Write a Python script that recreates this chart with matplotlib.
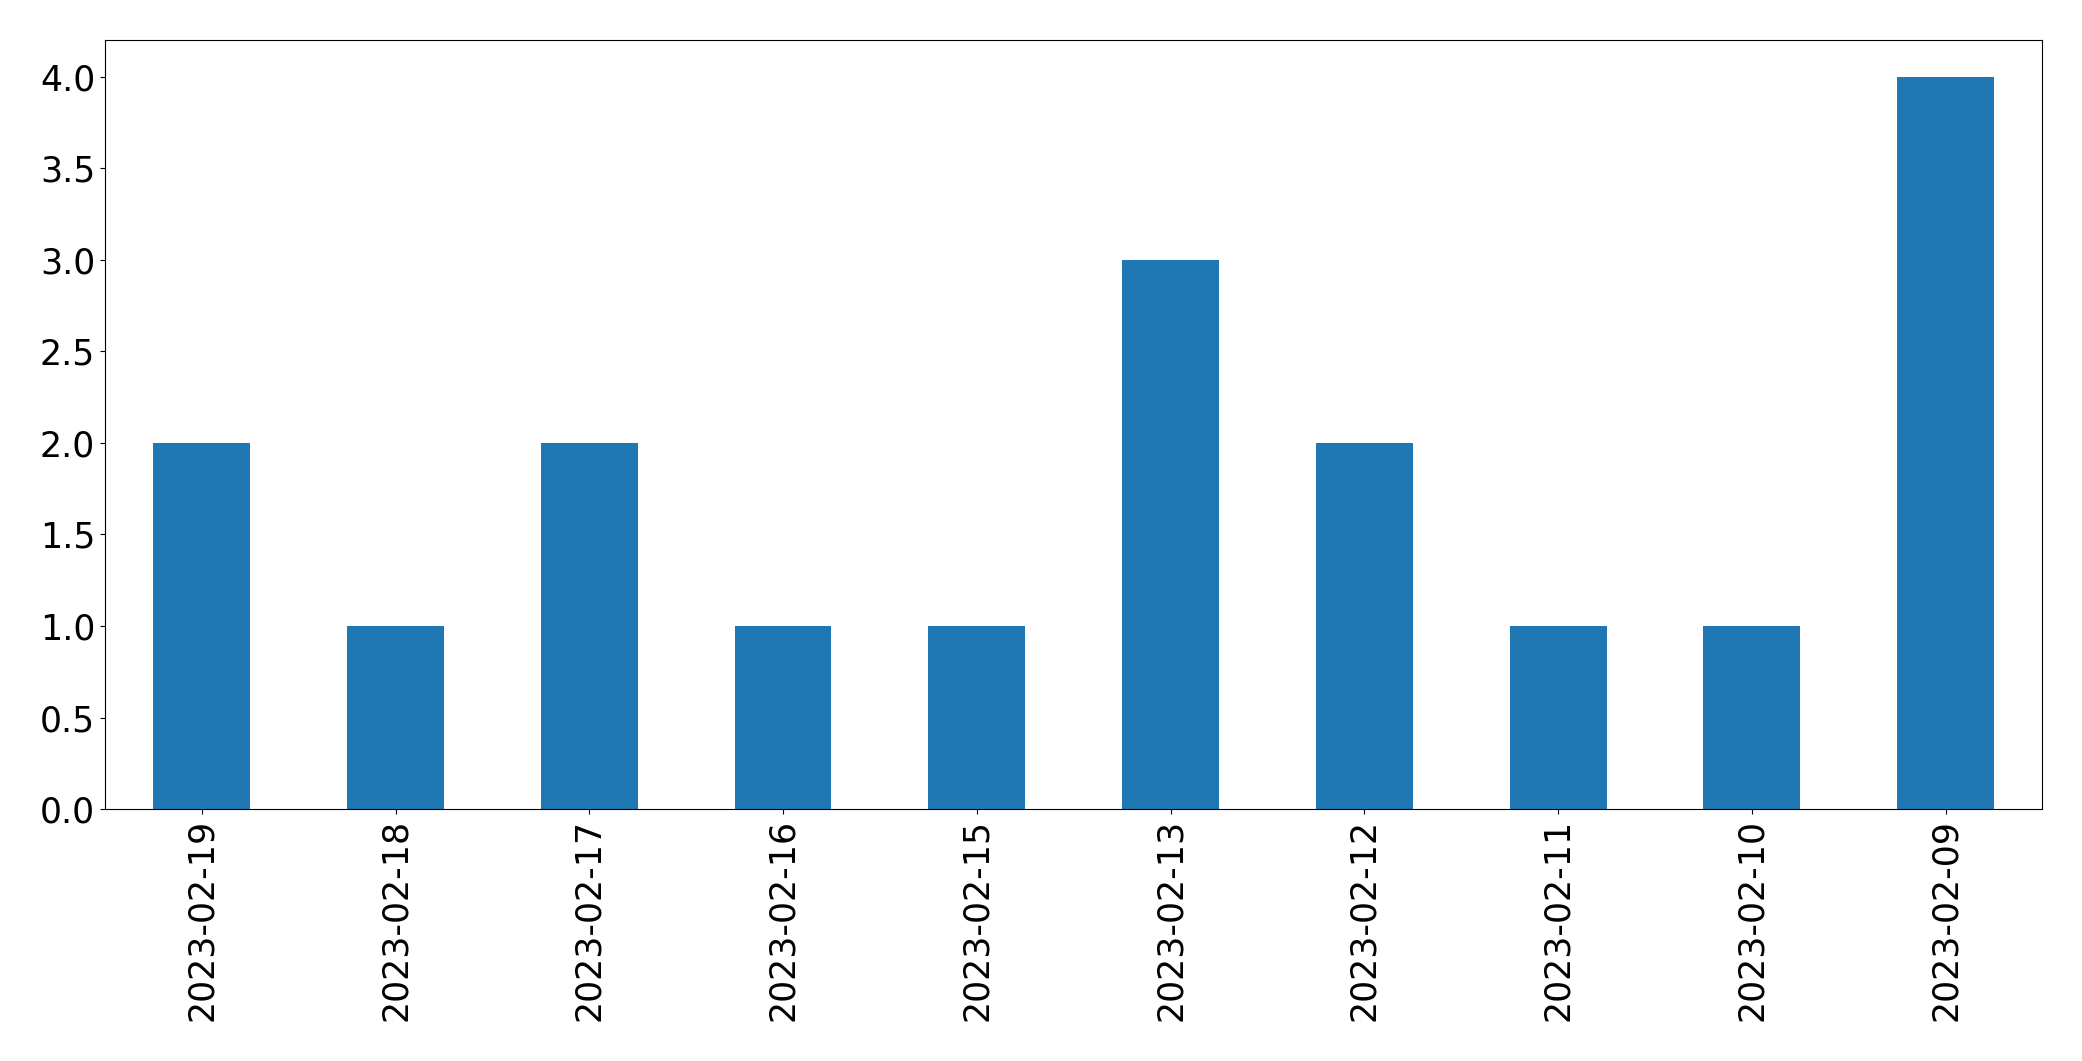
import pandas as pd
import matplotlib
matplotlib.use('Agg')
import matplotlib.pyplot as plt

dates = ['2023-02-19', '2023-02-18', '2023-02-17', '2023-02-16', '2023-02-15',
         '2023-02-13', '2023-02-12', '2023-02-11', '2023-02-10', '2023-02-09']
counts = [2, 1, 2, 1, 1, 3, 2, 1, 1, 4]

plt.rcParams['font.size'] = 25

series = pd.Series(counts, index=dates)

fig, ax = plt.subplots(figsize=(20.82, 10.61), dpi=100)
series.plot(kind='bar', ax=ax, color='#1f77b4')
ax.tick_params(axis='both', labelsize=25)
fig.subplots_adjust(left=0.0504, right=0.981, top=0.962, bottom=0.2375)
fig.savefig('out.png', dpi=100)
